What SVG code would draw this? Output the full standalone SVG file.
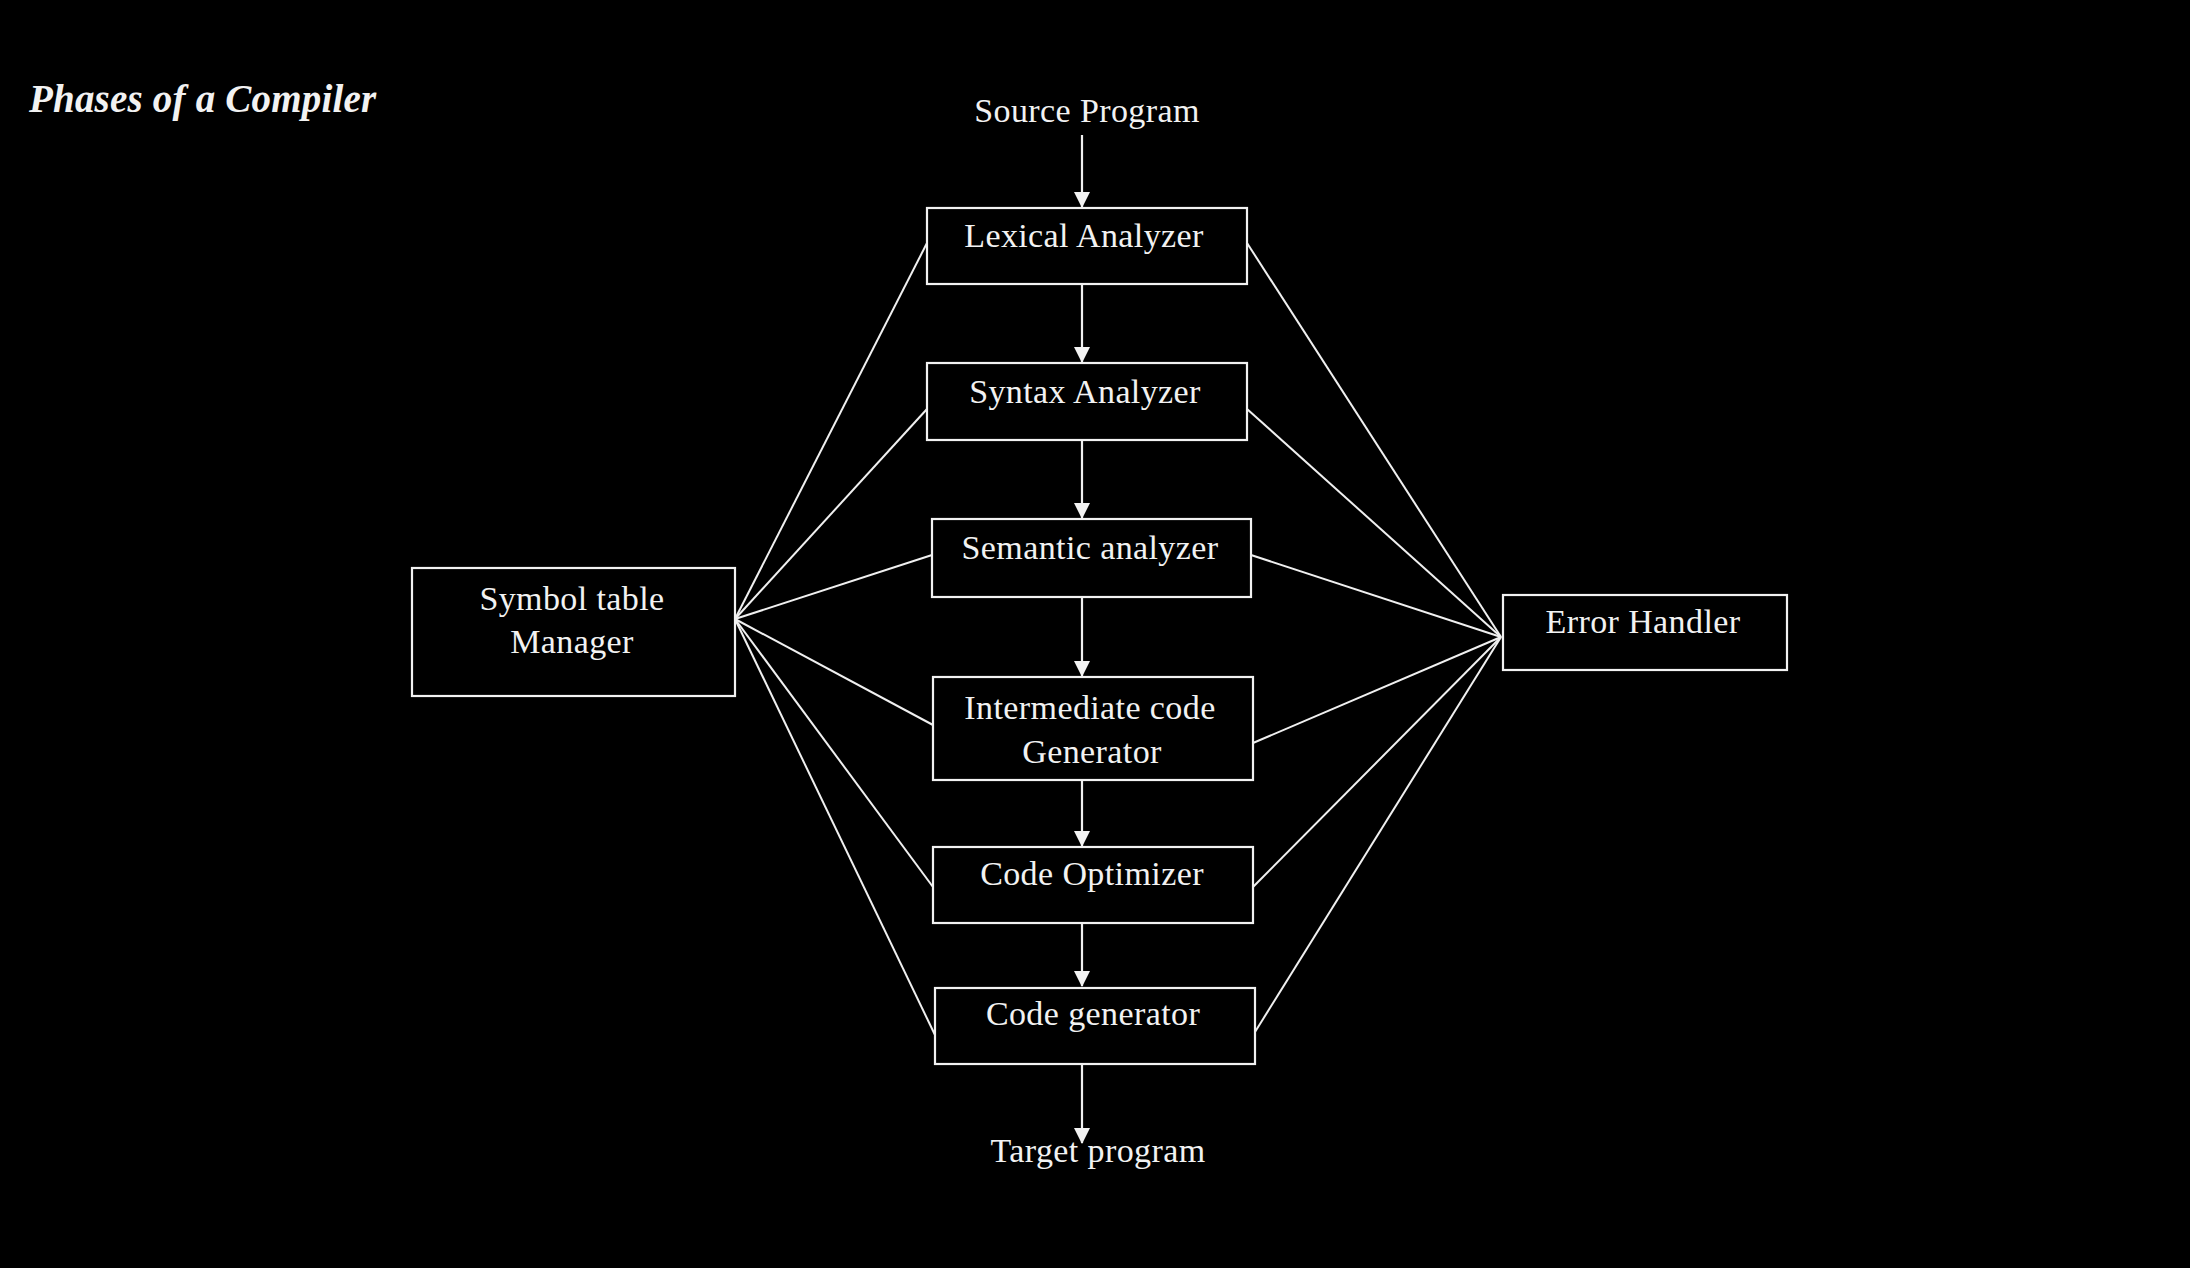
<svg xmlns="http://www.w3.org/2000/svg" width="2190" height="1268" viewBox="0 0 2190 1268">
<defs>
<style>
.bg{fill:#000}
.box{fill:#000;stroke:#f2f2f2;stroke-width:2.2}
.t{font-family:"Liberation Serif","Times New Roman",serif;font-size:34px;fill:#f2f2f2;text-anchor:middle;letter-spacing:0.4px}
.title{font-family:"Liberation Serif","Times New Roman",serif;font-size:39px;font-weight:bold;font-style:italic;fill:#f2f2f2;letter-spacing:0.2px}
.ln{stroke:#f0f0f0;stroke-width:2;fill:none}
.ar{stroke:#f0f0f0;stroke-width:2.2;fill:none;marker-end:url(#ah)}
</style>
<marker id="ah" markerWidth="16" markerHeight="16" viewBox="0 0 16 16" refX="15" refY="8" orient="auto" markerUnits="userSpaceOnUse">
<path d="M0,0 L16,8 L0,16 Z" fill="#f2f2f2"/>
</marker>
</defs>
<rect class="bg" x="0" y="0" width="2190" height="1268"/>
<text class="title" x="29" y="112">Phases of a Compiler</text>

<g id="connectors">
<line class="ar" x1="1082" y1="135" x2="1082" y2="207"/>
<line class="ar" x1="1082" y1="285" x2="1082" y2="362"/>
<line class="ar" x1="1082" y1="441" x2="1082" y2="518"/>
<line class="ar" x1="1082" y1="598" x2="1082" y2="676"/>
<line class="ar" x1="1082" y1="781" x2="1082" y2="846"/>
<line class="ar" x1="1082" y1="924" x2="1082" y2="986"/>
<line class="ar" x1="1082" y1="1065" x2="1082" y2="1143"/>
<line class="ln" x1="735" y1="619" x2="927" y2="243"/>
<line class="ln" x1="735" y1="619" x2="927" y2="409"/>
<line class="ln" x1="735" y1="619" x2="932" y2="555"/>
<line class="ln" x1="735" y1="619" x2="933" y2="725"/>
<line class="ln" x1="735" y1="619" x2="933" y2="887"/>
<line class="ln" x1="735" y1="619" x2="935" y2="1035"/>
<line class="ln" x1="1501" y1="637" x2="1247" y2="243"/>
<line class="ln" x1="1501" y1="637" x2="1247" y2="409"/>
<line class="ln" x1="1501" y1="637" x2="1251" y2="555"/>
<line class="ln" x1="1501" y1="637" x2="1253" y2="743"/>
<line class="ln" x1="1501" y1="637" x2="1253" y2="887"/>
<line class="ln" x1="1501" y1="637" x2="1255" y2="1032"/>
</g>

<g id="source"><text class="t" x="1087" y="122">Source Program</text></g>
<g id="lexical"><rect class="box" x="927" y="208" width="320" height="76"/><text class="t" x="1084" y="247">Lexical Analyzer</text></g>
<g id="syntax"><rect class="box" x="927" y="363" width="320" height="77"/><text class="t" x="1085" y="403">Syntax Analyzer</text></g>
<g id="semantic"><rect class="box" x="932" y="519" width="319" height="78"/><text class="t" x="1090" y="559">Semantic analyzer</text></g>
<g id="intermediate"><rect class="box" x="933" y="677" width="320" height="103"/><text class="t" x="1090" y="719">Intermediate code</text><text class="t" x="1092" y="763">Generator</text></g>
<g id="optimizer"><rect class="box" x="933" y="847" width="320" height="76"/><text class="t" x="1092" y="885">Code Optimizer</text></g>
<g id="codegen"><rect class="box" x="935" y="988" width="320" height="76"/><text class="t" x="1093" y="1025">Code generator</text></g>
<g id="target"><text class="t" x="1098" y="1162">Target program</text></g>
<g id="symbol"><rect class="box" x="412" y="568" width="323" height="128"/><text class="t" x="572" y="610">Symbol table</text><text class="t" x="572" y="653">Manager</text></g>
<g id="error"><rect class="box" x="1503" y="595" width="284" height="75"/><text class="t" x="1643" y="633">Error Handler</text></g>
</svg>
